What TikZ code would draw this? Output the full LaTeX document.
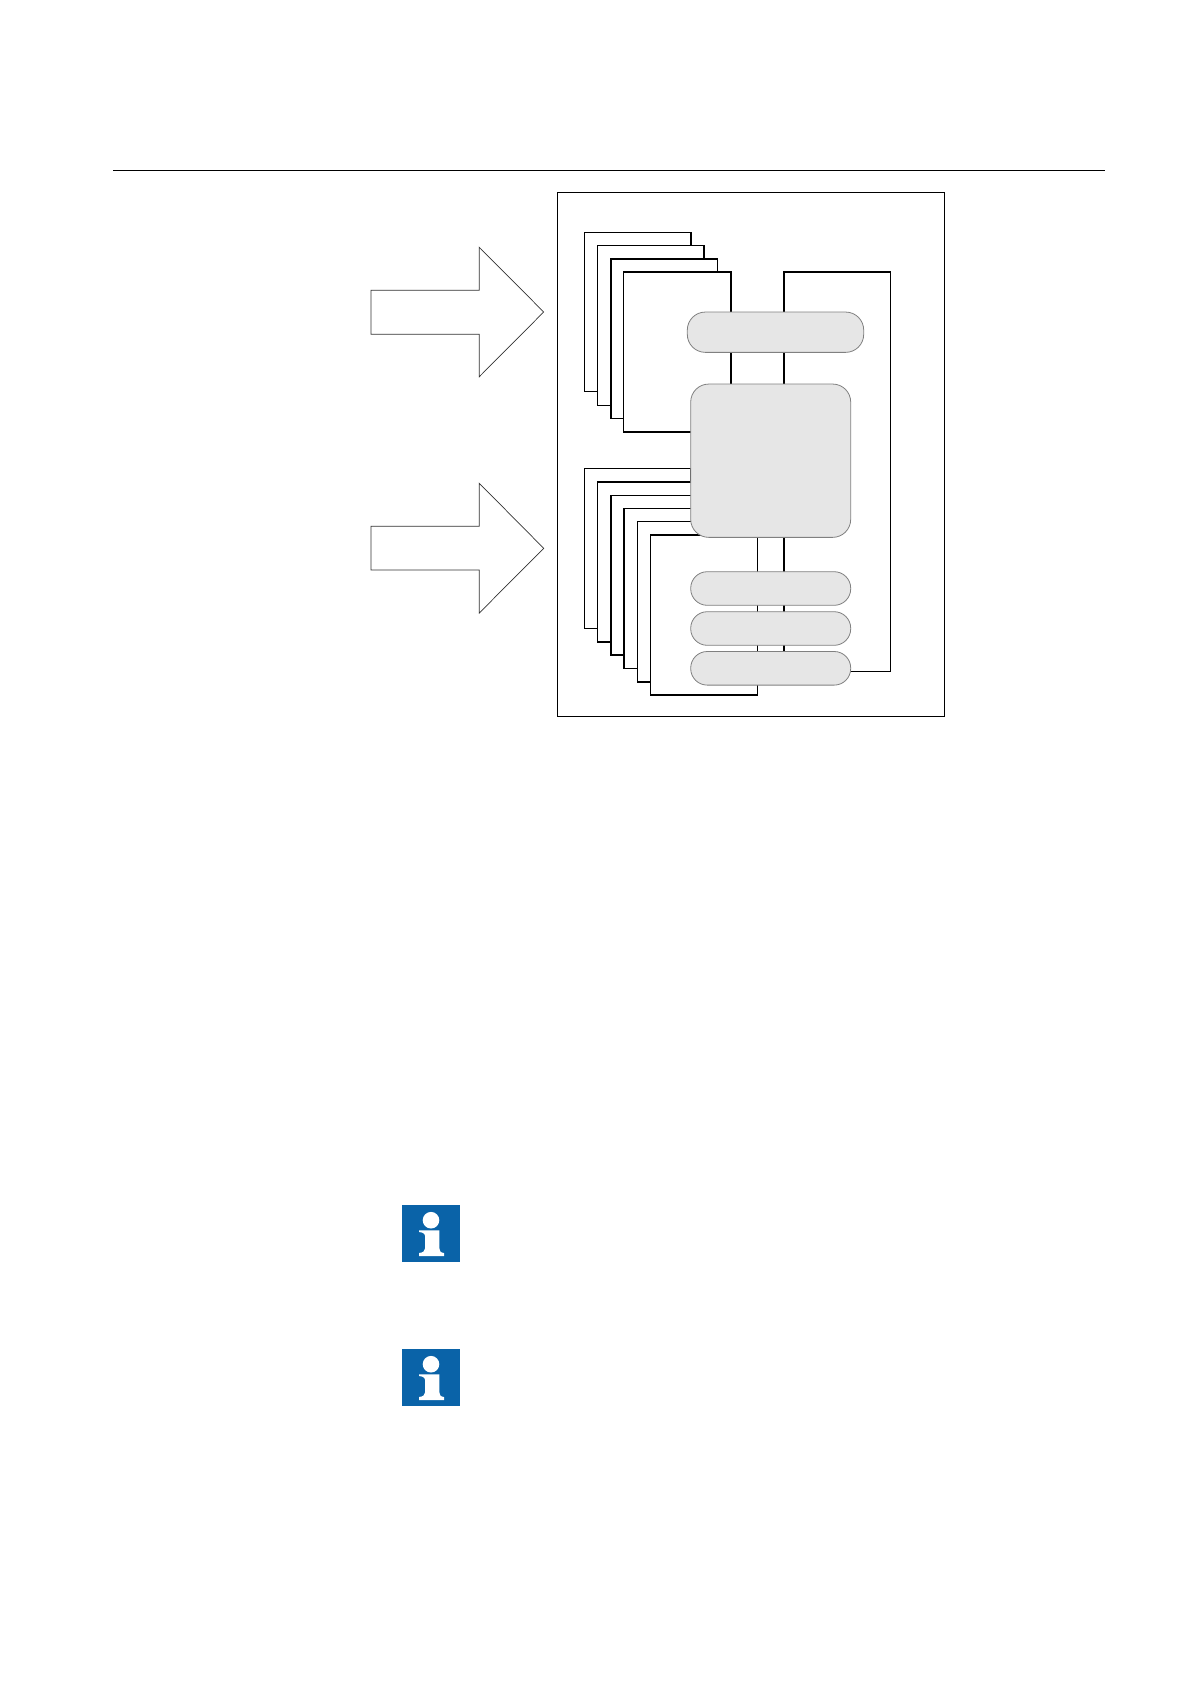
\documentclass[tikz,border=0pt]{standalone}
\definecolor{pillgray}{HTML}{E6E6E6}
\definecolor{pillline}{HTML}{808080}
\definecolor{abbblue}{HTML}{0A63A8}
\tikzset{
  plate/.style={draw=black,fill=white,line width=1.4pt,line join=miter},
  frame/.style={draw=black,line width=1.3pt},
  bigarrow/.style={draw=black!80,fill=white,line width=.7pt},
  pill/.style={draw=pillline,fill=pillgray,line width=.8pt,rounded corners=#1},
  rule/.style={draw=black,line width=1.3pt},
  infobox/.style={fill=abbblue,draw=none}
}
\newcommand{\infoicon}[2]{%
  \begin{scope}[shift={(#1,#2)}]
    \fill[infobox] (402.3,1205) rectangle (460,1262.4);
    \fill[white] (431,1220.2) circle (8.3);
    \fill[white] (419,1230.3) -- (439.3,1230.3) -- (439.3,1248)
      .. controls (439.3,1251) and (440.5,1252.6) .. (444,1253)
      -- (444,1256) -- (419,1256) -- (419,1253)
      .. controls (423,1252.6) and (425.2,1251) .. (425.2,1248)
      -- (425.2,1237) .. controls (425.2,1233.5) and (423,1232.4) .. (419,1232) -- cycle;
  \end{scope}}
\begin{document}
\begin{tikzpicture}[x=1pt,y=-1pt]
\useasboundingbox (0,0) rectangle (1191,1684);
\draw[rule] (113,170.5) coordinate (ruleL) -- (1105,170.5) coordinate (ruleR);
% outer frame
\draw[frame] (557.5,192.7) rectangle (944.7,716.7);
% arrows
\draw[bigarrow] (371,290.3) -- (479.3,290.3) -- (479.3,247.3) -- (543.7,312) -- (479.3,376.7) -- (479.3,334.3) -- (371,334.3) -- cycle;
\draw[bigarrow] (371,526.3) -- (479.3,526.3) -- (479.3,483.3) -- (543.7,548.3) -- (479.3,613) -- (479.3,570) -- (371,570) -- cycle;
% upper stack
\draw[plate] (584.5,232.3) rectangle (691,391.7);
\draw[plate] (597.5,245.3) rectangle (704,405.3);
\draw[plate] (611,259) rectangle (717.5,418.7);
\draw[plate] (623.7,272) rectangle (731,432);
% right plate
\draw[plate] (784,272) rectangle (890.3,671.7);
% lower stack
\draw[plate] (584.5,468.3) rectangle (691,628.3);
\draw[plate] (597.5,482) rectangle (704,642);
\draw[plate] (611,495.3) rectangle (717.5,655);
\draw[plate] (624,508.7) rectangle (731,668.7);
\draw[plate] (637.5,521.7) rectangle (744,682);
\draw[plate] (650.7,535) rectangle (757.3,695);
% the right plate's left edge runs over the lower stack
\draw[plate,fill=none] (784,532) -- (784,660);
% gray blocks
\node[pill=18pt,minimum width=176.4pt,minimum height=40.3pt,inner sep=0pt,outer sep=0pt] (busTop) at (775.5,332.2) {};
\node[pill=18pt,minimum width=160pt,minimum height=153.3pt,inner sep=0pt,outer sep=0pt] (core) at (770.7,460.7) {};
\node[pill=16.5pt,minimum width=160pt,minimum height=33.6pt,inner sep=0pt,outer sep=0pt] (busA) at (770.7,588.5) {};
\node[pill=16.5pt,minimum width=160pt,minimum height=33.6pt,inner sep=0pt,outer sep=0pt] (busB) at (770.7,628.5) {};
\node[pill=16.5pt,minimum width=160pt,minimum height=33.6pt,inner sep=0pt,outer sep=0pt] (busC) at (770.7,668.3) {};
% info icons
\infoicon{0}{0}
\infoicon{0}{144}
\end{tikzpicture}
\end{document}
